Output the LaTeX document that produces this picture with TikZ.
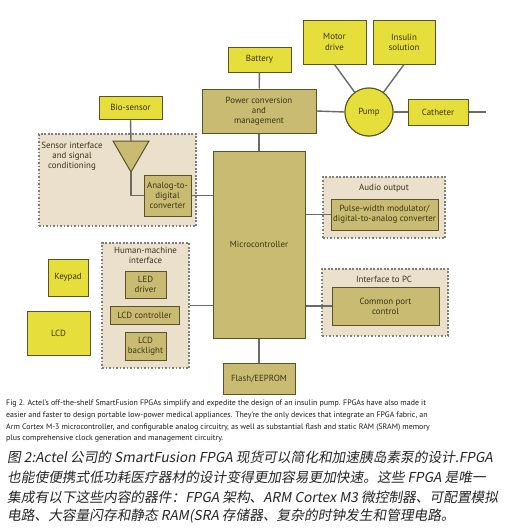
\documentclass[tikz,border=0pt]{standalone}
\usepackage{fontspec}
\setmainfont{PT Sans}
\newfontfamily\cjk[FakeSlant=0.18]{Noto Sans CJK SC}
\usetikzlibrary{calc}
\definecolor{ylw}{HTML}{E6DE3A}
\definecolor{khaki}{HTML}{C9BC72}
\definecolor{regfill}{HTML}{EAE0CC}
\definecolor{bord}{HTML}{5A5228}
\definecolor{txt}{HTML}{3A3418}
\definecolor{conn}{HTML}{6A6A66}
\definecolor{dotc}{HTML}{7E7E7A}
\tikzset{
  base/.style={draw=bord, line width=1pt, inner sep=0pt, align=center,
    font=\fontsize{8.9}{10.2}\selectfont, text=txt},
  ybox/.style={base, fill=ylw},
  kbox/.style={base, fill=khaki},
  region/.style={draw=dotc, fill=regfill, line width=1.3pt, dash pattern=on 1.6pt off 1.9pt, inner sep=0pt},
  rlabel/.style={font=\fontsize{8.9}{10.2}\selectfont, text=txt, align=center, inner sep=0pt},
  wire/.style={draw=conn, line width=1.4pt},
  capen/.style={font=\fontsize{7.9}{9}\selectfont, text=black!90, anchor=west, inner sep=0pt},
  capzh/.style={font=\cjk\fontsize{13.7}{16}\selectfont, text=black!85, anchor=west, inner sep=0pt},
}
\begin{document}
\begin{tikzpicture}[x=1pt,y=-1pt]
\useasboundingbox[fill=white] (0,0) rectangle (511,528);
% regions
\node[region, minimum width=157pt, minimum height=92pt] (sensreg) at (117.5,180) {};
\node[region, minimum width=87pt, minimum height=125pt] (hmi) at (145.5,305.5) {};
\node[region, minimum width=122pt, minimum height=61pt] (audio) at (384,207.5) {};
\node[region, minimum width=126pt, minimum height=67pt] (pcreg) at (385,302.5) {};
\node[rlabel] (senslab) at (72,156) {Sensor interface\\and signal\\conditioning};
\node[rlabel] (hmilab) at (145.5,255.5) {Human-machine\\interface};
\node[rlabel] (audiolab) at (384,188) {Audio output};
\node[rlabel] (pclab) at (384,279) {Interface to PC};
% main column
\node[ybox, minimum width=63pt, minimum height=25pt] (battery) at (259.5,59.5) {Battery};
\node[kbox, minimum width=114pt, minimum height=44pt] (power) at (259,111) {Power conversion\\and\\management};
\node[kbox, minimum width=92pt, minimum height=187pt] (micro) at (259,244.5) {Microcontroller};
\node[kbox, minimum width=72pt, minimum height=31pt] (flash) at (259,378.5) {Flash/EEPROM};
% pump group
\node[ybox, minimum width=63pt, minimum height=44pt] (motor) at (334.5,42) {Motor\\drive};
\node[ybox, minimum width=62pt, minimum height=44pt] (insulin) at (404,42) {Insulin\\solution};
\node[ybox, circle, minimum size=48pt] (pump) at (369,112) {Pump};
\node[ybox, minimum width=60pt, minimum height=26pt] (cath) at (438,112) {Catheter};
\coordinate (cathend) at (486,112);
% sensor
\node[ybox, minimum width=63pt, minimum height=23pt] (bio) at (130.5,107.5) {Bio-sensor};
\coordinate (tl) at (113,141);
\coordinate (tr) at (149,141);
\coordinate (tip) at (131,172);
\coordinate (tritop) at (131,141);
\node[kbox, minimum width=47pt, minimum height=41pt] (adc) at (167.5,195.5) {Analog-to-\\digital\\converter};
% hmi
\node[kbox, minimum width=41pt, minimum height=27pt] (led) at (145.5,284.5) {LED\\driver};
\node[kbox, minimum width=69pt, minimum height=18pt] (lcdc) at (144.5,315) {LCD controller};
\node[kbox, minimum width=41pt, minimum height=28pt] (lcdb) at (145.5,346) {LCD\\backlight};
\node[ybox, minimum width=40pt, minimum height=37pt] (keypad) at (68,277.5) {Keypad};
\node[ybox, minimum width=63pt, minimum height=44pt] (lcd) at (58.5,333) {LCD};
% right side
\node[kbox, minimum width=107pt, minimum height=31pt] (pwm) at (384.5,214.5) {Pulse-width modulator/\\digital-to-analog converter};
\node[kbox, minimum width=107pt, minimum height=38pt] (cpc) at (385.5,306) {Common port\\control};
% connectors
\draw[wire] (battery) -- (power);
\draw[wire] (power) -- (micro);
\draw[wire] (micro) -- (flash);
\draw[wire] (power.east) -- (pump.west);
\draw[wire] (pump.east) -- (cath.west);
\draw[wire] (cath.east) -- (cathend);
\draw[wire] (motor.south) -- (pump);
\draw[wire] (insulin.south) -- (pump);
\draw[wire] (bio.south) -- (tritop);
\draw[wire] (tip) |- (adc.west);
\draw[wire] (adc.east) -- (adc.east -| micro.west);
\draw[wire] (hmi.east) -- (hmi.east -| micro.west);
\draw[wire] (pwm.west -| micro.east) -- (pwm.west);
\draw[wire] (cpc.west -| micro.east) -- (cpc.west);
% redraw nodes on top of wires
\node[ybox, circle, minimum size=48pt] at (pump) {Pump};
\filldraw[draw=bord, fill=khaki, line width=1pt, line join=miter] (tl) -- (tr) -- (tip) -- cycle;
% captions
\node[capen] (c1) at (6,404) {Fig 2. Actel's off-the-shelf SmartFusion FPGAs simplify and expedite the design of an insulin pump. FPGAs have also made it};
\node[capen] (c2) at (6,416) {easier and faster to design portable low-power medical appliances. They're the only devices that integrate an FPGA fabric, an};
\node[capen] (c3) at (6,428) {Arm Cortex M-3 microcontroller, and configurable analog circuitry, as well as substantial flash and static RAM (SRAM) memory};
\node[capen] (c4) at (6,439) {plus comprehensive clock generation and management circuitry.};
\node[capzh] (z1) at (7,457) {图 2:Actel 公司的 SmartFusion FPGA 现货可以简化和加速胰岛素泵的设计.FPGA};
\node[capzh] (z2) at (7,477) {也能使便携式低功耗医疗器材的设计变得更加容易更加快速。这些 FPGA 是唯一};
\node[capzh] (z3) at (7,497) {集成有以下这些内容的器件：FPGA 架构、ARM Cortex M3 微控制器、可配置模拟};
\node[capzh] (z4) at (7,516) {电路、大容量闪存和静态 RAM(SRA 存储器、复杂的时钟发生和管理电路。};
\end{tikzpicture}
\end{document}
